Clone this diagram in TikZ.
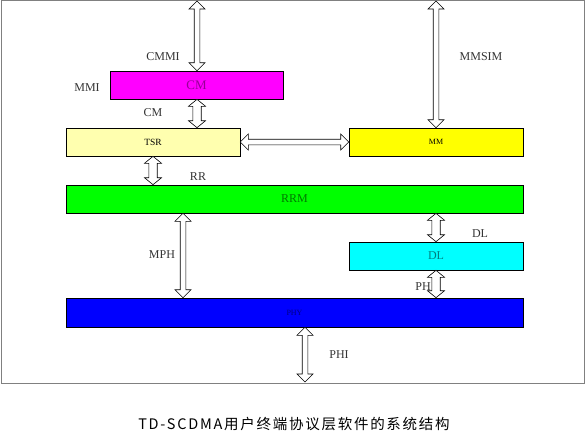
\documentclass[tikz,border=0pt]{standalone}
\usepackage{fontspec}
\setmainfont{Liberation Serif}
\newfontfamily\cjk[LetterSpace=12]{Noto Sans CJK SC}
\usetikzlibrary{calc}
\definecolor{cmfill}{RGB}{255,0,255}
\definecolor{paleyellow}{RGB}{255,255,175}
\definecolor{mmfill}{RGB}{255,255,0}
\definecolor{rrmfill}{RGB}{0,255,0}
\definecolor{dlfill}{RGB}{0,255,255}
\definecolor{phyfill}{RGB}{0,0,255}
\definecolor{cmtext}{RGB}{150,0,150}
\definecolor{rrmtext}{RGB}{0,120,0}
\definecolor{dltext}{RGB}{0,128,128}
\definecolor{phytext}{RGB}{0,0,130}
% hollow two-headed arrow between two named points
% #1 start, #2 end, #3 head length, #4 head half width, #5 shaft half width
\newcommand{\dblarrow}[5]{%
  \coordinate (h1) at ($(#1)!#3!(#2)$);
  \coordinate (h2) at ($(#2)!#3!(#1)$);
  \draw[fill=white,line width=0.6pt,line join=miter] (#1)
    -- ($(h1)!#4!90:(#2)$) -- ($(h1)!#5!90:(#2)$)
    -- ($(h2)!#5!-90:(#1)$) -- ($(h2)!#4!-90:(#1)$)
    -- (#2)
    -- ($(h2)!#4!90:(#1)$) -- ($(h2)!#5!90:(#1)$)
    -- ($(h1)!#5!-90:(#2)$) -- ($(h1)!#4!-90:(#2)$) -- cycle;}
\begin{document}
\begin{tikzpicture}[x=1pt,y=-1pt,
    layer/.style={shape=rectangle,draw=black,line width=0.6pt,minimum height=28pt,inner sep=0pt},
    lbl/.style={font=\fontsize{12}{14}\selectfont,text=black!80}]
                \useasboundingbox (0,0) rectangle (588,434);
                \draw[gray,line width=1pt] (1,0) rectangle (584,383);

                \node[layer, fill=cmfill, minimum width=173pt, text=cmtext, font=\fontsize{13}{15}\selectfont] (cm) at (196.5,85) {CM};
                \node[layer, fill=paleyellow, minimum width=174pt, font=\fontsize{9.5}{11}\selectfont] (tsr) at (153,142) {TSR};
                \node[layer, fill=mmfill, minimum width=174pt, font=\fontsize{8}{10}\selectfont] (mm) at (436,142) {MM};
                \node[layer, fill=rrmfill, minimum width=457pt, text=rrmtext, font=\fontsize{12}{14}\selectfont] (rrm) at (294.5,199) {RRM};
                \node[layer, fill=dlfill, minimum width=174pt, text=dltext, font=\fontsize{12}{14}\selectfont] (dl) at (436,256) {DL};
                \node[layer, fill=phyfill, minimum width=457pt, minimum height=29pt, text=phytext, font=\fontsize{8}{10}\selectfont] (phy) at (294.5,312.5) {PHY};

                \coordinate (cmtop) at (197,1);
                \coordinate (mmtop) at (436,1);
                \coordinate (phybot) at (305,382);
                \coordinate (cmbot) at (cm.south -| cmtop);
                \coordinate (cmbase) at (cm.north -| cmtop);
                \coordinate (tsrtop) at (tsr.north -| cmtop);
                \coordinate (rrmtop) at (tsr.south |- rrm.north);
                \coordinate (rrmbot) at ([xshift=-111.5pt]rrm.south);
                \coordinate (phytop) at ([xshift=-111.5pt]phy.north);
                \coordinate (rrmdl) at (dl.north |- rrm.south);
                \coordinate (phydl) at (dl.south |- phy.north);
                \coordinate (phybase) at (phy.south -| phybot);

                \dblarrow{cmbase}{cmtop}{8pt}{8pt}{2.8pt}
                \dblarrow{mm.north}{mmtop}{8pt}{8pt}{2.8pt}
                \dblarrow{cmbot}{tsrtop}{7pt}{8.5pt}{4.2pt}
                \dblarrow{tsr.east}{mm.west}{8pt}{8pt}{2.8pt}
                \dblarrow{tsr.south}{rrmtop}{7pt}{8.5pt}{4.2pt}
                \dblarrow{rrmbot}{phytop}{8pt}{8pt}{2.8pt}
                \dblarrow{rrmdl}{dl.north}{7pt}{8.5pt}{4.2pt}
                \dblarrow{dl.south}{phydl}{7pt}{8.5pt}{4.2pt}
                \dblarrow{phybase}{phybot}{8pt}{8pt}{2.8pt}

                \node[lbl] (cmmi) at (163,57) {CMMI};
                \node[lbl] (mmi) at (87,88) {MMI};
                \node[lbl] (cmlbl) at (153,113) {CM};
                \node[lbl] (rr) at (198,177) {RR};
                \node[lbl] (mmsim) at (481,57) {MMSIM};
                \node[lbl] (mph) at (162,255) {MPH};
                \node[lbl] (dllbl) at (480,234) {DL};
                \node[lbl] (ph) at (423,287) {PH};
                \node[lbl] (phi) at (339,355) {PHI};

                \node[font=\cjk\fontsize{14.5}{16}\selectfont] (caption) at (294,424) {TD-SCDMA用户终端协议层软件的系统结构};
            \end{tikzpicture}
\end{document}
